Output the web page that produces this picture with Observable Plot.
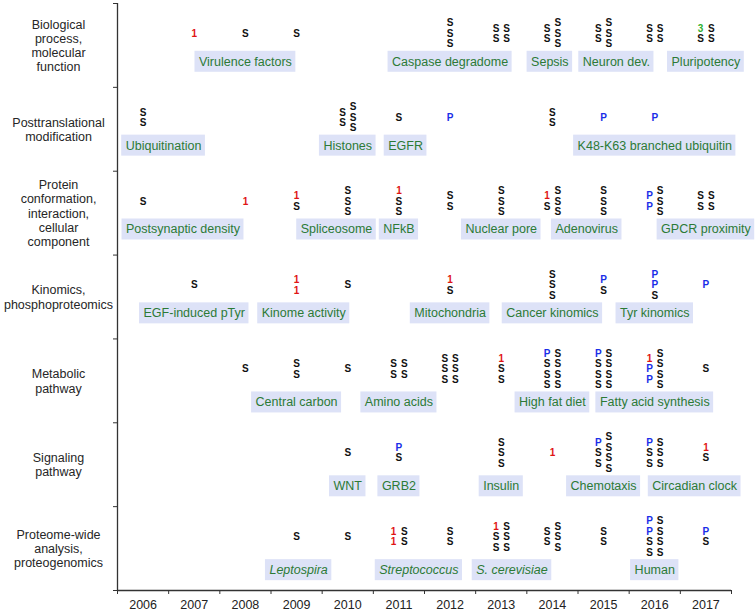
<!DOCTYPE html>
<html><head><meta charset="utf-8">
<script src="https://cdn.jsdelivr.net/npm/d3@7"></script>
<script src="https://cdn.jsdelivr.net/npm/@observablehq/plot@0.6"></script>
<style>body{margin:0;background:#fff;}</style>
</head><body><div id="chart"></div>
<script>
// ---------- data ----------
const years = [2006, 2007, 2008, 2009, 2010, 2011, 2012, 2013, 2014, 2015, 2016, 2017];
const categories = [
  "Biological\nprocess,\nmolecular\nfunction",
  "Posttranslational\nmodification",
  "Protein\nconformation,\ninteraction,\ncellular\ncomponent",
  "Kinomics,\nphosphoproteomics",
  "Metabolic\npathway",
  "Signaling\npathway",
  "Proteome-wide\nanalysis,\nproteogenomics"
];
// each entry: [year, columns (letters listed top to bottom)]
const bioProcessStacks = [[2007,["1"]],[2008,["S"]],[2009,["S"]],[2012,["SSS"]],[2013,["SS","SS"]],[2014,["SS","SSS"]],[2015,["SS","SSS"]],[2016,["SS","SS"]],[2017,["3S","SS"]]];
const ptmStacks = [[2006,["SS"]],[2010,["SS","SSS"]],[2011,["S"]],[2012,["P"]],[2014,["SS"]],[2015,["P"]],[2016,["P"]]];
const conformationStacks = [[2006,["S"]],[2008,["1"]],[2009,["1S"]],[2010,["SSS"]],[2011,["1SS"]],[2012,["SS"]],[2013,["SSS"]],[2014,["1S","SSS"]],[2015,["SSS"]],[2016,["PP","SSS"]],[2017,["SS","SS"]]];
const kinomicsStacks = [[2007,["S"]],[2009,["11"]],[2010,["S"]],[2012,["1S"]],[2014,["SSS"]],[2015,["PS"]],[2016,["PPS"]],[2017,["P"]]];
const metabolicStacks = [[2008,["S"]],[2009,["SS"]],[2010,["S"]],[2011,["SS","SS"]],[2012,["SSS","SSS"]],[2013,["1SS"]],[2014,["PSSS","SSSS"]],[2015,["PSSS","SSSS"]],[2016,["1PP","SSSS"]],[2017,["S"]]];
const signalingStacks = [[2010,["S"]],[2011,["PS"]],[2013,["SSS"]],[2014,["1"]],[2015,["PSS","SSSS"]],[2016,["PSS","SSS"]],[2017,["1S"]]];
const proteomeStacks = [[2009,["S"]],[2010,["S"]],[2011,["11","SS"]],[2012,["SS"]],[2013,["1SS","SSS"]],[2014,["SS","SSS"]],[2015,["SS"]],[2016,["PPSS","SSSS"]],[2017,["PS"]]];

// topic labels: [text, anchor year, italic]
const bioProcessLabels = [["Virulence factors",2008.0],["Caspase degradome",2012.0],["Sepsis",2013.95],["Neuron dev.",2015.25],["Pluripotency",2017.0]];
const ptmLabels = [["Ubiquitination",2006.4],["Histones",2010.0],["EGFR",2011.13],["K48-K63 branched ubiquitin",2016.0]];
const conformationLabels = [["Postsynaptic density",2006.78],["Spliceosome",2009.78],["NFkB",2011.0],["Nuclear pore",2013.0],["Adenovirus",2014.67],["GPCR proximity",2017.0]];
const kinomicsLabels = [["EGF-induced pTyr",2007.0],["Kinome activity",2009.14],["Mitochondria",2012.0],["Cancer kinomics",2014.0],["Tyr kinomics",2016.0]];
const metabolicLabels = [["Central carbon",2009.0],["Amino acids",2011.0],["High fat diet",2014.0],["Fatty acid synthesis",2016.0]];
const signalingLabels = [["WNT",2010.0],["GRB2",2011.0],["Insulin",2013.0],["Chemotaxis",2015.0],["Circadian clock",2016.78]];
const proteomeLabels = [["Leptospira",2009.04,true],["Streptococcus",2011.39,true],["S. cerevisiae",2013.21,true],["Human",2016.0]];

const letterTypes = ["S","P","1","3"];
const letterColors = ["#111111","#1a2ee8","#e01414","#2fb02f"];

// ---------- layout helpers ----------
const stacks = [bioProcessStacks, ptmStacks, conformationStacks, kinomicsStacks, metabolicStacks, signalingStacks, proteomeStacks];
const labels = [bioProcessLabels, ptmLabels, conformationLabels, kinomicsLabels, metabolicLabels, signalingLabels, proteomeLabels];
const FONT = '"Liberation Sans", Arial, Helvetica, sans-serif';
const STACK_Y = 0.36, STACK_GAP = 0.125, COL_GAP = 0.207, LABEL_GAP = 0.21;

const letters = [];
const labelData = [];
const ctx = document.createElement("canvas").getContext("2d");
const measure = (s, italic) => { ctx.font = `${italic ? "italic " : ""}12.5px ${FONT}`; return ctx.measureText(s).width; };

stacks.forEach((row, r) => {
  let maxN = 1;
  row.forEach(([year, cols]) => {
    cols.forEach((col, c) => {
      const chars = [...col];
      maxN = Math.max(maxN, chars.length);
      chars.forEach((ch, k) => letters.push({
        ch,
        x: year + (c - (cols.length - 1) / 2) * COL_GAP,
        y: r + STACK_Y + (k - (chars.length - 1) / 2) * STACK_GAP
      }));
    });
  });
  const ly = r + STACK_Y + (maxN - 1) * STACK_GAP / 2 + LABEL_GAP;
  labels[r].forEach(([text, at, italic]) => labelData.push({text, at, italic: !!italic, y: ly, w: measure(text, !!italic)}));
});

const halfTicks = d3.range(years[0] - 0.5, years[years.length - 1] + 1, 1);
const rowBounds = d3.range(0, categories.length + 1);

const plot = Plot.plot({
  width: 755,
  height: 612,
  marginLeft: 117,
  marginRight: 24,
  marginTop: 3,
  marginBottom: 22,
  style: {fontFamily: FONT, background: "#fff"},
  x: {domain: [years[0] - 0.5, years[years.length - 1] + 0.5]},
  y: {domain: [0, categories.length], range: [3, 590]},
  color: {domain: letterTypes, range: letterColors},
  marks: [
    // label boxes
    ...labelData.map(d => Plot.rect([d], {
      x1: "at", x2: "at", y1: "y", y2: "y",
      insetLeft: -(d.w / 2 + 4), insetRight: -(d.w / 2 + 4),
      insetTop: -10.5, insetBottom: -10.5,
      fill: "#dde2f7"
    })),
    Plot.text(labelData.filter(d => !d.italic), {x: "at", y: "y", text: "text", fill: "#2c7a36", fontSize: 12.5}),
    Plot.text(labelData.filter(d => d.italic), {x: "at", y: "y", text: "text", fill: "#2c7a36", fontSize: 12.5, fontStyle: "italic"}),
    // letters
    Plot.text(letters, {x: "x", y: "y", text: "ch", fill: "ch", fontSize: 10, fontWeight: "bold"}),
    // row categories
    Plot.text(categories.map((c, i) => ({c, i})), {
      frameAnchor: "left", y: d => d.i + 0.5, text: "c", dx: -59,
      textAnchor: "middle", fontSize: 12.5, lineHeight: 1.14, fill: "#262626"
    }),
    // axes
    Plot.axisY({ticks: rowBounds, tickSize: 4, tickFormat: () => "", label: null, stroke: "#333"}),
    Plot.axisX({ticks: halfTicks, tickSize: 4, tickFormat: () => "", label: null, stroke: "#333"}),
    Plot.axisX({ticks: years, tickSize: 0, tickPadding: 10, tickFormat: d => String(d), label: null, fontSize: 12.5, fill: "#222"}),
    Plot.ruleX([years[0] - 0.5], {y1: 0, y2: categories.length, stroke: "#333", strokeWidth: 1.3}),
    Plot.ruleY([categories.length], {x1: years[0] - 0.5, x2: years[years.length - 1] + 0.5, stroke: "#333", strokeWidth: 1.3})
  ]
});
document.getElementById("chart").appendChild(plot);
</script>
</body></html>
